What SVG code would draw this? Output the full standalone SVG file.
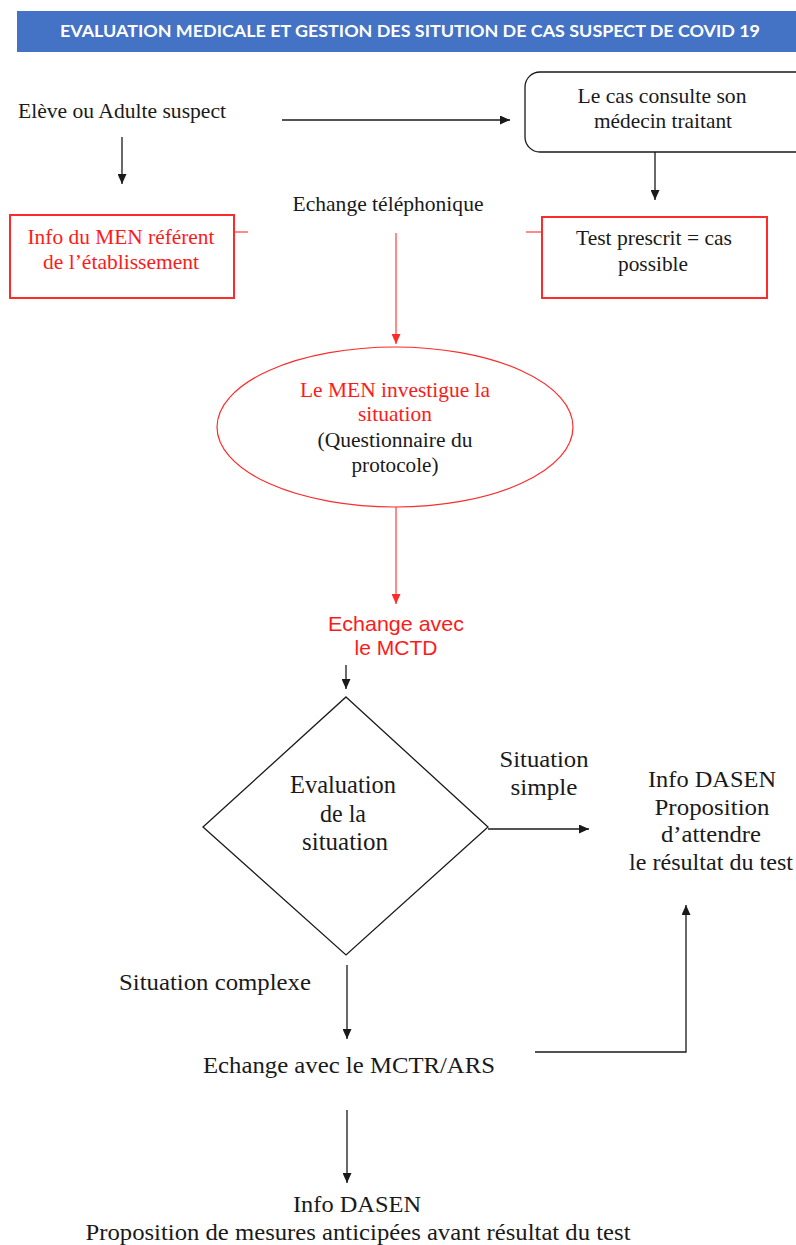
<svg xmlns="http://www.w3.org/2000/svg" width="796" height="1245" viewBox="0 0 796 1245">
<style>
text{lengthAdjust:spacingAndGlyphs}
.t{font-family:"Liberation Serif","Times New Roman",serif;fill:#1a1a1a;text-anchor:middle}
.r{fill:#ff1a1a}
.s{font-family:"Liberation Sans",Arial,sans-serif;fill:#ff1a1a;text-anchor:middle}
.bl{stroke:#1a1a1a;stroke-width:1.3;fill:none}
.rl{stroke:#ff2a2a;stroke-width:1.1;fill:none}
</style>
<defs>
<marker id="ab" markerUnits="userSpaceOnUse" markerWidth="10" markerHeight="9" refX="10" refY="4.5" orient="auto"><path d="M0,0 L10,4.5 L0,9 z" fill="#1a1a1a"/></marker>
<marker id="ar" markerUnits="userSpaceOnUse" markerWidth="10" markerHeight="9" refX="10" refY="4.5" orient="auto"><path d="M0,0 L10,4.5 L0,9 z" fill="#ff2a2a"/></marker>
</defs>
<rect width="796" height="1245" fill="#ffffff"/>
<g id="title">
<rect x="17" y="11" width="779" height="41" fill="#4472c4"/>
<text x="410" y="37" font-family="Lato,'Open Sans',sans-serif" font-weight="bold" font-size="17" fill="#ffffff" text-anchor="middle" textLength="700" lengthAdjust="spacingAndGlyphs">EVALUATION MEDICALE ET GESTION DES SITUTION DE CAS SUSPECT DE COVID 19</text>
</g>
<g id="connectors">
<line class="bl" x1="282" y1="120" x2="510" y2="120" marker-end="url(#ab)" stroke-width="1.6"/>
<line class="bl" x1="122" y1="137" x2="122" y2="184" marker-end="url(#ab)"/>
<line class="bl" x1="655" y1="152" x2="655" y2="200" marker-end="url(#ab)"/>
<line class="rl" x1="234" y1="232" x2="248" y2="232"/>
<line class="rl" x1="526" y1="232" x2="542" y2="232"/>
<line class="rl" x1="396" y1="233" x2="396" y2="344" marker-end="url(#ar)"/>
<line class="rl" x1="396" y1="507" x2="396" y2="604" marker-end="url(#ar)"/>
<line class="bl" x1="346" y1="665" x2="346" y2="689" marker-end="url(#ab)"/>
<line class="bl" x1="488" y1="829" x2="589" y2="829" marker-end="url(#ab)"/>
<line class="bl" x1="347" y1="965" x2="347" y2="1039" marker-end="url(#ab)" stroke-width="1"/>
<polyline class="bl" points="535,1052 686,1052 686,905" marker-end="url(#ab)" stroke-width="1.8"/>
<line class="bl" x1="347" y1="1110" x2="347" y2="1183" marker-end="url(#ab)" stroke-width="1"/>
</g>
<g id="eleve">
<text class="t" x="122" y="118" font-size="21" textLength="208" lengthAdjust="spacingAndGlyphs">Elève ou Adulte suspect</text>
</g>
<g id="medecin">
<rect x="525" y="72" width="290" height="80" rx="15" fill="#ffffff" stroke="#1a1a1a" stroke-width="1.3"/>
<text class="t" x="662" y="103" font-size="21.5" textLength="169" lengthAdjust="spacingAndGlyphs">Le cas consulte son</text>
<text class="t" x="663" y="128" font-size="21.5" textLength="138" lengthAdjust="spacingAndGlyphs">médecin traitant</text>
</g>
<g id="info-men">
<rect x="10" y="215" width="224" height="83" fill="#ffffff" stroke="#ff2a2a" stroke-width="2"/>
<text class="t r" x="121" y="244" font-size="21.5" textLength="187" lengthAdjust="spacingAndGlyphs">Info du MEN référent</text>
<text class="t r" x="121" y="269" font-size="21.5" textLength="156" lengthAdjust="spacingAndGlyphs">de l’établissement</text>
</g>
<g id="echange-tel">
<text class="t" x="388" y="211" font-size="21" textLength="191" lengthAdjust="spacingAndGlyphs">Echange téléphonique</text>
</g>
<g id="test">
<rect x="542" y="217" width="225" height="81" fill="#ffffff" stroke="#ff2a2a" stroke-width="2"/>
<text class="t" x="654" y="245" font-size="21" textLength="156" lengthAdjust="spacingAndGlyphs">Test prescrit = cas</text>
<text class="t" x="653" y="271" font-size="21" textLength="70" lengthAdjust="spacingAndGlyphs">possible</text>
</g>
<g id="men-investigue">
<ellipse cx="395" cy="427" rx="178" ry="80" fill="#ffffff" stroke="#ff2a2a" stroke-width="1.2"/>
<text class="t r" x="395" y="397" font-size="21" textLength="190" lengthAdjust="spacingAndGlyphs">Le MEN investigue la</text>
<text class="t r" x="395" y="421" font-size="21" textLength="74" lengthAdjust="spacingAndGlyphs">situation</text>
<text class="t" x="395" y="447" font-size="20.5" textLength="155" lengthAdjust="spacingAndGlyphs">(Questionnaire du</text>
<text class="t" x="395" y="472" font-size="20.5" textLength="87" lengthAdjust="spacingAndGlyphs">protocole)</text>
</g>
<g id="mctd">
<text class="s" x="396" y="631" font-size="21" textLength="136" lengthAdjust="spacingAndGlyphs">Echange avec</text>
<text class="s" x="396" y="655" font-size="21" textLength="83" lengthAdjust="spacingAndGlyphs">le MCTD</text>
</g>
<g id="evaluation">
<polygon points="346,697 488,827 346,955 203,827" fill="#ffffff" stroke="#1a1a1a" stroke-width="1.3"/>
<text class="t" x="343" y="793" font-size="25" textLength="106" lengthAdjust="spacingAndGlyphs">Evaluation</text>
<text class="t" x="343" y="822" font-size="25" textLength="46" lengthAdjust="spacingAndGlyphs">de la</text>
<text class="t" x="345" y="850" font-size="25" textLength="86" lengthAdjust="spacingAndGlyphs">situation</text>
</g>
<g id="situation-simple">
<text class="t" x="544" y="767" font-size="24" textLength="89" lengthAdjust="spacingAndGlyphs">Situation</text>
<text class="t" x="544" y="795" font-size="24" textLength="67" lengthAdjust="spacingAndGlyphs">simple</text>
</g>
<g id="info-dasen-1">
<text class="t" x="712" y="787" font-size="24" textLength="128" lengthAdjust="spacingAndGlyphs">Info DASEN</text>
<text class="t" x="712" y="815" font-size="24" textLength="115" lengthAdjust="spacingAndGlyphs">Proposition</text>
<text class="t" x="711" y="842" font-size="24" textLength="100" lengthAdjust="spacingAndGlyphs">d’attendre</text>
<text class="t" x="711" y="870" font-size="24" textLength="164" lengthAdjust="spacingAndGlyphs">le résultat du test</text>
</g>
<g id="situation-complexe">
<text class="t" x="215" y="990" font-size="24" textLength="192" lengthAdjust="spacingAndGlyphs">Situation complexe</text>
</g>
<g id="mctr">
<text class="t" x="349" y="1073" font-size="24" textLength="292" lengthAdjust="spacingAndGlyphs">Echange avec le MCTR/ARS</text>
</g>
<g id="info-dasen-2">
<text class="t" x="357" y="1212" font-size="24" textLength="128" lengthAdjust="spacingAndGlyphs">Info DASEN</text>
<text class="t" x="358" y="1240" font-size="24" textLength="545" lengthAdjust="spacingAndGlyphs">Proposition de mesures anticipées avant résultat du test</text>
</g>
</svg>
